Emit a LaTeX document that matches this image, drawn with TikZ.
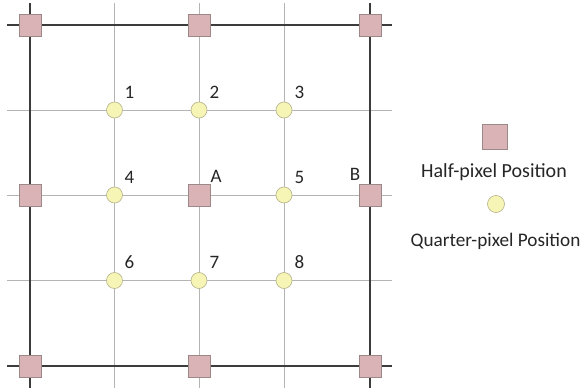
\documentclass[tikz,border=0pt]{standalone}
\usepackage{fontspec}
\setmainfont{Carlito}
\usetikzlibrary{positioning}
\definecolor{Frame}{HTML}{3C3C3C}
\definecolor{Grid}{HTML}{B4B4B4}
\definecolor{HalfFill}{HTML}{D9B3B5}
\definecolor{HalfLine}{HTML}{9C8789}
\definecolor{QuarterFill}{HTML}{F7F5B5}
\definecolor{QuarterLine}{HTML}{B5B38A}
\definecolor{Text}{HTML}{262626}

\begin{document}
\begin{tikzpicture}[x=1pt,y=-1pt,every node/.style={text=Text},frameline/.style={draw=Frame,line width=1.5pt},gridline/.style={draw=Grid,line width=0.9pt},half/.style={rectangle,draw=HalfLine,fill=HalfFill,line width=0.6pt,minimum size=22pt,inner sep=0pt},quarter/.style={circle,draw=QuarterLine,fill=QuarterFill,line width=0.6pt,minimum size=16pt,inner sep=0pt},lbl/.style={font=\fontsize{19}{22}\selectfont,inner sep=0pt},legendtext/.style={font=\fontsize{20}{24}\selectfont,inner sep=0pt}]
\useasboundingbox (0,0) rectangle (582,391);
\fill[white] (0,0) rectangle (582,391);
% grid lines
\foreach \gx in {114.5,199,284} \draw[gridline] (\gx,3) -- (\gx,388);
\foreach \gy in {110,195,280.5} \draw[gridline] (7,\gy) -- (392,\gy);
\foreach \gx in {30,370} \draw[frameline] (\gx,3) -- (\gx,388);
\foreach \gy in {25,366} \draw[frameline] (7,\gy) -- (392,\gy);
% half-pixel positions
\node[half] (h1) at (30,25) {};
\node[half] (h2) at (199,25) {};
\node[half] (h3) at (370,25) {};
\node[half] (h4) at (30,195) {};
\node[half] (A) at (199,195) {};
\node[half] (B) at (370,195) {};
\node[half] (h7) at (30,366) {};
\node[half] (h8) at (199,366) {};
\node[half] (h9) at (370,366) {};
% quarter-pixel positions
\node[quarter] (q1) at (114.5,110) {};
\node[quarter] (q2) at (199,110) {};
\node[quarter] (q3) at (284,110) {};
\node[quarter] (q4) at (114.5,195) {};
\node[quarter] (q5) at (284,195) {};
\node[quarter] (q6) at (114.5,280.5) {};
\node[quarter] (q7) at (199,280.5) {};
\node[quarter] (q8) at (284,280.5) {};
% labels
\node[lbl] (l1) at (129.5,92) {1};
\node[lbl] (l2) at (214.5,92) {2};
\node[lbl] (l3) at (299.5,92) {3};
\node[lbl] (l4) at (129.5,177) {4};
\node[lbl] (lA) at (216,176) {A};
\node[lbl] (l5) at (299.5,177) {5};
\node[lbl] (lB) at (355,174) {B};
\node[lbl] (l6) at (129.5,262.5) {6};
\node[lbl] (l7) at (214.5,262.5) {7};
\node[lbl] (l8) at (299.5,262.5) {8};
% legend
\node[half,minimum size=25pt] (halfkey) at (495,137) {};
\node[legendtext] (halftext) at (494,172) {Half-pixel Position};
\node[quarter,minimum size=17pt] (quarterkey) at (496,204) {};
\node[legendtext,font=\fontsize{19.2}{23}\selectfont] (quartertext) at (495.5,241) {Quarter-pixel Position};
\end{tikzpicture}
\end{document}
